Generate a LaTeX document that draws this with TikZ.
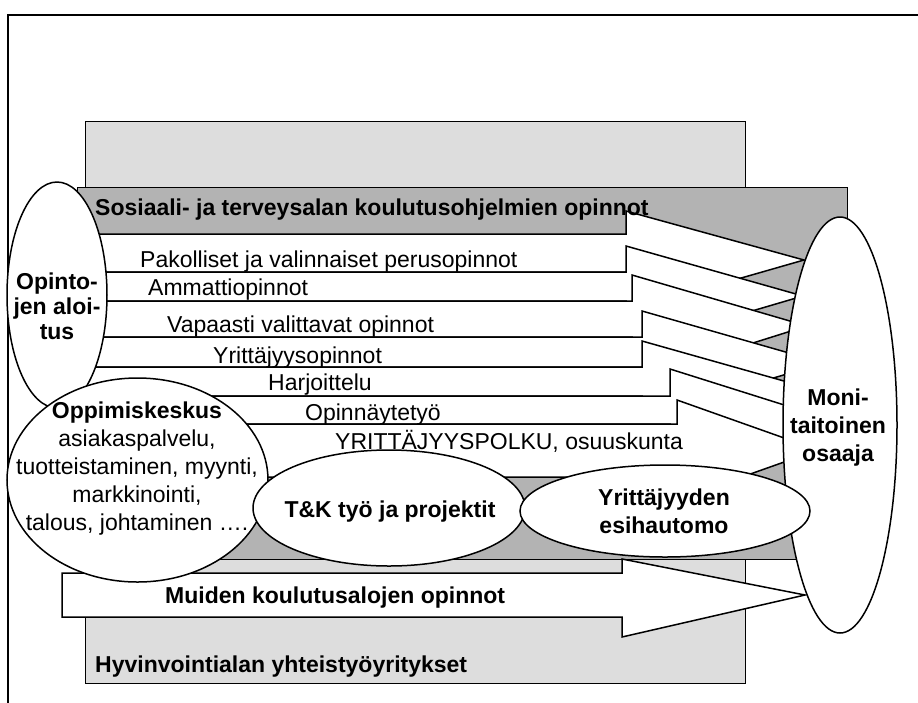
\documentclass[tikz,border=0pt]{standalone}
\usepackage{fontspec}
\setmainfont{Liberation Sans}
\usepackage{tikz}
\usetikzlibrary{shapes.geometric}
\definecolor{paleGray}{HTML}{DDDDDD}
\definecolor{midGray}{HTML}{B3B3B3}
\tikzset{
  band/.style={draw, fill=white, line width=1.5pt, line join=miter},
  blob/.style={ellipse, draw, fill=white, line width=1.5pt, inner sep=0pt},
  txt/.style={inner sep=0pt, font=\fontsize{23}{28}\selectfont},
  btxt/.style={inner sep=0pt, font=\fontsize{23}{28}\selectfont\bfseries},
}

\begin{document}
\begin{tikzpicture}[x=1pt, y=-1pt]
			%%%%% START %%%%%
			\useasboundingbox (0,0) rectangle (918,702);
			
			\draw[line width=2.2pt] (8,710) -- (8,15) -- (925,15);
			
			\draw[fill=paleGray, line width=0.9pt] (85,121) rectangle (745,683);
			\draw[fill=midGray, line width=0.9pt] (77,187) rectangle (847,559);
			
			\draw[band] (60,234) -- (626,234) -- (626,211) -- (804,260) -- (626,311) -- (626,272) -- (60,272) -- cycle;
			\draw[band] (60,272) -- (626,272) -- (626,246) -- (803,296) -- (626,348) -- (626,301) -- (60,301) -- cycle;
			\draw[band] (60,301) -- (632,301) -- (632,275) -- (807,326) -- (632,381) -- (632,337) -- (60,337) -- cycle;
			\draw[band] (60,337) -- (642,337) -- (642,311) -- (824,363) -- (642,417) -- (642,367) -- (60,367) -- cycle;
			\draw[band] (60,367) -- (642,367) -- (642,341) -- (830,394) -- (642,447) -- (642,396) -- (60,396) -- cycle;
			\draw[band] (60,396) -- (670,396) -- (670,369) -- (835,421) -- (670,478) -- (670,424) -- (60,424) -- cycle;
			\draw[band] (60,424) -- (677,424) -- (677,400) -- (818,450) -- (677,500) -- (677,477) -- (60,477) -- cycle;
			
			\draw[band] (62,573) -- (622,573) -- (622,559) -- (805,595) -- (622,637) -- (622,617) -- (62,617) -- cycle;
			
			\node[blob, minimum width=100pt, minimum height=226pt] (aloitus) at (57,295) {};
			\node[blob, minimum width=261pt, minimum height=204pt] (oppimis) at (137.5,480) {};
			\node[blob, minimum width=272pt, minimum height=116pt] (tk) at (389,508) {};
			\node[blob, minimum width=114pt, minimum height=416pt] (osaaja) at (840,425) {};
			\node[blob, minimum width=290pt, minimum height=92pt] (hautomo) at (665,511) {};
			
			\node[btxt, anchor=base west] (sosiaali) at (95,215) {Sosiaali- ja terveysalan koulutusohjelmien opinnot};
			\node[txt, anchor=base west] (pakolliset) at (140,267) {Pakolliset ja valinnaiset perusopinnot};
			\node[txt, anchor=base west] (ammatti) at (148,295) {Ammattiopinnot};
			\node[txt, anchor=base west] (vapaasti) at (167,332) {Vapaasti valittavat opinnot};
			\node[txt, anchor=base west] (yrittajyys) at (213,363) {Yrittäjyysopinnot};
			\node[txt, anchor=base west] (harjoittelu) at (268,390) {Harjoittelu};
			\node[txt, anchor=base west] (opinnayte) at (305,420) {Opinnäytetyö};
			\node[txt, anchor=base west] (polku) at (335,449) {YRITTÄJYYSPOLKU, osuuskunta};
			\node[btxt, anchor=base west] (muiden) at (165,603) {Muiden koulutusalojen opinnot};
			\node[btxt, anchor=base west] (hyvinvointi) at (95,672) {Hyvinvointialan yhteistyöyritykset};
			
			\node[btxt, align=center, font=\fontsize{23}{25}\selectfont\bfseries] (aloitusTxt) at (57,306) {Opinto-\\jen aloi-\\tus};
			\node[txt, align=center] (oppimisTxt) at (137,469) {\textbf{Oppimiskeskus}\\asiakaspalvelu,\\tuotteistaminen, myynti,\\markkinointi,\\talous, johtaminen ….};
			\node[btxt, anchor=base] (tkTxt) at (390,517) {T\&K työ ja projektit};
			\node[btxt, align=center] (hautomoTxt) at (664,511) {Yrittäjyyden\\esihautomo};
			\node[btxt, align=center] (osaajaTxt) at (838,428) {Moni-\\taitoinen\\osaaja};
			
			%%%%% END %%%%%
\end{tikzpicture}
\end{document}
